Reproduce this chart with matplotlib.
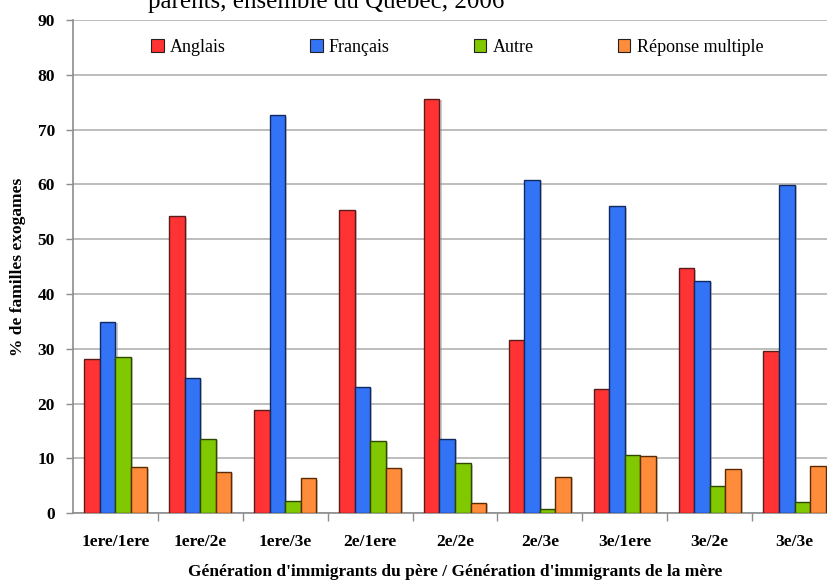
import matplotlib
matplotlib.use('Agg')
import matplotlib.pyplot as plt
import matplotlib.patheffects as pe
from matplotlib.patches import Patch
import numpy as np

# data
categories = ['1ere/1ere', '1ere/2e', '1ere/3e', '2e/1ere', '2e/2e',
              '2e/3e', '3e/1ere', '3e/2e', '3e/3e']
anglais = [28.2, 54.2, 18.9, 55.4, 75.6, 31.7, 22.6, 44.7, 29.7]
francais = [34.9, 24.7, 72.6, 23.1, 13.6, 60.9, 56.0, 42.4, 59.9]
autre = [28.5, 13.6, 2.3, 13.2, 9.1, 0.8, 10.7, 4.9, 2.1]
multiple = [8.4, 7.6, 6.4, 8.3, 1.9, 6.7, 10.5, 8.0, 8.6]
series_names = ['Anglais', 'Français', 'Autre', 'Réponse multiple']

FACE = ['#FF3333', '#3373F5', '#80C800', '#FF8C3A']
EDGE = ['#5C1A1A', '#10295E', '#2E4800', '#5A2A00']
GRID = '#b8b8b8'
AXIS = '#8c8c8c'

plt.rcParams['font.family'] = ['Liberation Serif', 'DejaVu Serif']

W, H = 827, 583
fig = plt.figure(figsize=(W / 100, H / 100), dpi=100)
# axes extends past right edge, like the cropped original
ax = fig.add_axes([73 / W, (H - 513.3) / H, 764 / W, 493.3 / H])

x = np.arange(len(categories))
bw = 0.183
shadow = [pe.SimplePatchShadow(offset=(1.5, -1), shadow_rgbFace='#999999', alpha=0.5), pe.Normal()]
for k, vals in enumerate([anglais, francais, autre, multiple]):
    ax.bar(x + (k - 1.5) * bw, vals, bw, color=FACE[k], edgecolor=EDGE[k],
           linewidth=1, zorder=3, path_effects=shadow)

ax.set_xlim(-0.5, len(categories) - 0.5)
ax.set_ylim(0, 90)
ax.set_yticks(np.arange(0, 91, 10))
ax.yaxis.grid(True, color=GRID, linewidth=1.3, zorder=0)
ax.set_axisbelow(True)

ax.set_xticks(x)
ax.set_xticklabels(categories, fontsize=12.5, fontweight='bold')
ax.set_xticks(np.arange(0.5, len(categories) - 0.5), minor=True)
ax.tick_params(axis='x', which='major', length=0, pad=15)
ax.tick_params(axis='x', which='minor', length=6, color=AXIS, width=1)
ax.tick_params(axis='y', length=5, color=AXIS, width=1, pad=8)
for lab in ax.get_yticklabels():
    lab.set_fontsize(12.5)
    lab.set_fontweight('bold')

for s in ['top', 'right']:
    ax.spines[s].set_visible(False)
ax.spines['left'].set_color(AXIS)
ax.spines['bottom'].set_color(AXIS)
ax.spines['left'].set_linewidth(1.2)
ax.spines['bottom'].set_linewidth(1.2)

ax.set_xlabel("Génération d'immigrants du père / Génération d'immigrants de la mère",
              fontsize=12.5, fontweight='bold', labelpad=10)
ax.set_ylabel('% de familles exogames', fontsize=12.5, fontweight='bold', labelpad=8)

handles = [Patch(facecolor=FACE[k], edgecolor='#222222', linewidth=0.8) for k in range(4)]
ax.legend(handles, series_names, loc='center', bbox_to_anchor=(0.503, 0.945), ncol=4,
          frameon=False, fontsize=13, handlelength=0.7, handleheight=0.7,
          handletextpad=0.35, columnspacing=4.65)

# title, top line is cut off in the original
fig.text(148 / W, 1 - 8 / H, 'parents, ensemble du Québec, 2006', fontsize=18,
         ha='left', va='baseline')

fig.savefig('out.png', dpi=100)
